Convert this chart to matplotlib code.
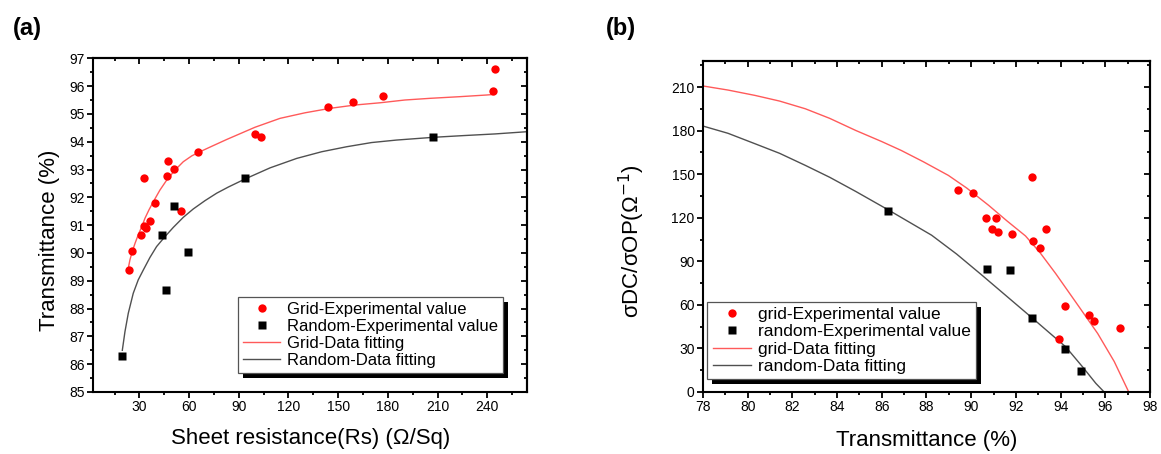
import matplotlib
matplotlib.use('Agg')
import matplotlib.pyplot as plt
from matplotlib.ticker import MultipleLocator
from matplotlib.patches import Rectangle
from matplotlib.lines import Line2D

plt.rcParams['font.family'] = ['Liberation Sans', 'DejaVu Sans']

# ---- panel (a): transmittance vs sheet resistance ----
grid_rs = [23.8, 25.7, 30.9, 32.8, 32.8, 34.1, 36.2, 39.4, 46.9, 47.1,
           51.2, 55.0, 65.5, 100.0, 103.6, 144.0, 159.2, 176.8, 243.5, 244.5]
grid_t = [89.40, 90.07, 90.63, 90.98, 92.70, 90.91, 91.16, 91.81, 92.75, 93.29,
          93.02, 91.51, 93.63, 94.27, 94.18, 95.24, 95.44, 95.66, 95.81, 96.63]

random_rs = [19.7, 43.9, 46.0, 50.8, 59.3, 94.0, 207.5]
random_t = [86.29, 90.64, 88.67, 91.70, 90.03, 92.69, 94.17]

# fitted curves
grid_fit_rs = [23.3, 24.3, 25.7, 27.4, 29.3, 31.4, 33.4, 35.8, 38.4, 42.4, 46.5,
               51.5, 56.5, 61.6, 66.6, 74.6, 82.7, 99.8, 114.9, 130.0, 145.1,
               160.2, 175.3, 190.3, 205.4, 223.5, 239.7, 244.0]
grid_fit_t = [89.45, 89.75, 90.05, 90.35, 90.65, 90.94, 91.25, 91.55, 91.84, 92.26, 92.62,
              92.98, 93.28, 93.49, 93.64, 93.86, 94.08, 94.52, 94.84, 95.04, 95.20,
              95.32, 95.40, 95.50, 95.56, 95.62, 95.68, 95.70]

random_fit_rs = [19.7, 21.3, 23.3, 26.3, 29.3, 32.4, 36.4, 40.4, 45.5, 50.5, 56.5,
                 62.5, 69.6, 76.7, 83.7, 93.8, 108.9, 125.0, 140.1, 155.2, 170.2,
                 185.3, 207.9, 225.6, 244.7, 264.0]
random_fit_t = [86.50, 87.17, 87.83, 88.55, 89.03, 89.39, 89.84, 90.23, 90.59, 90.92, 91.28,
                91.58, 91.88, 92.15, 92.37, 92.66, 93.06, 93.40, 93.64, 93.82, 93.97,
                94.06, 94.16, 94.22, 94.28, 94.36]

# ---- panel (b): figure of merit vs transmittance ----
grid_tb = [89.43, 90.10, 90.68, 91.09, 90.92, 91.21, 91.84, 92.71, 92.78, 93.08,
           93.33, 94.21, 93.91, 95.27, 95.48, 96.67]
grid_fom = [139.1, 136.8, 119.7, 119.7, 112.1, 110.1, 108.5, 148.3, 104.3, 99.0,
            112.6, 59.2, 36.2, 52.7, 49.0, 44.0]

random_tb = [86.28, 90.71, 91.75, 92.71, 94.21, 94.93]
random_fom = [124.6, 84.5, 84.0, 51.3, 29.5, 14.5]

grid_fit_tb = [78.0, 79.12, 80.33, 81.43, 82.58, 83.67, 84.83, 86.0, 86.87, 87.86,
               88.98, 89.8, 90.78, 91.59, 92.43, 93.08, 93.78, 94.83, 95.66, 96.4, 97.05]
grid_fit_fom = [210.8, 208.0, 204.3, 200.4, 195.1, 188.5, 180.2, 172.5, 166.4, 158.6,
                149.2, 140.5, 128.6, 118.0, 107.5, 96.0, 81.6, 58.6, 40.3, 21.0, 0.0]

random_fit_tb = [78.0, 79.12, 80.33, 81.43, 82.58, 83.67, 84.83, 86.33, 88.23, 89.35,
                 90.48, 92.73, 94.23, 95.0, 95.58, 95.95]
random_fit_fom = [183.2, 178.2, 171.0, 164.4, 156.1, 147.9, 138.2, 125.1, 108.0, 95.0,
                  80.5, 51.0, 31.1, 17.0, 5.9, 0.0]

RED = '#ff0000'
RED_LINE = '#ff5a5a'
GRAY_LINE = '#505050'


def style(ax, xmaj, xmin, ymaj, ymin):
    for sp in ax.spines.values():
        sp.set_linewidth(1.5)
    ax.xaxis.set_major_locator(MultipleLocator(xmaj))
    ax.xaxis.set_minor_locator(MultipleLocator(xmin))
    ax.yaxis.set_major_locator(MultipleLocator(ymaj))
    ax.yaxis.set_minor_locator(MultipleLocator(ymin))
    ax.tick_params(which='both', direction='out', width=1.3, labelsize=10,
                   pad=2)
    ax.tick_params(which='major', length=4)
    ax.tick_params(which='minor', length=2.5)
    top = ax.secondary_xaxis('top')
    top.xaxis.set_major_locator(MultipleLocator(xmaj))
    top.xaxis.set_minor_locator(MultipleLocator(xmin))
    right = ax.secondary_yaxis('right')
    right.yaxis.set_major_locator(MultipleLocator(ymaj))
    right.yaxis.set_minor_locator(MultipleLocator(ymin))
    for sec in (top, right):
        sec.tick_params(which='both', direction='in', width=1.3,
                        labeltop=False, labelright=False)
        sec.tick_params(which='major', length=4)
        sec.tick_params(which='minor', length=2.5)
        for sp in sec.spines.values():
            sp.set_linewidth(1.5)


def make_legend(ax, labels, anchor, fs):
    handles = [
        Line2D([], [], ls='none', marker='o', ms=6, color=RED, mec='none'),
        Line2D([], [], ls='none', marker='s', ms=5.3, color='black', mec='none'),
        Line2D([], [], color=RED_LINE, lw=1),
        Line2D([], [], color=GRAY_LINE, lw=1),
    ]
    leg = ax.legend(handles, labels, loc='lower left', bbox_to_anchor=anchor,
                    fontsize=fs, frameon=True, fancybox=False, borderpad=0.3,
                    labelspacing=0.12, handlelength=2.2, handletextpad=0.4,
                    borderaxespad=0, framealpha=1, facecolor='white')
    leg.get_frame().set_edgecolor('#555555')
    leg.get_frame().set_linewidth(0.9)
    return leg


fig = plt.figure(figsize=(11.61, 4.54), dpi=100)
ax1 = fig.add_axes([0.0801, 0.1366, 0.3738, 0.735])
ax2 = fig.add_axes([0.6055, 0.1366, 0.3850, 0.729])

# (a)
ax1.plot(grid_fit_rs, grid_fit_t, color=RED_LINE, lw=1, zorder=2)
ax1.plot(random_fit_rs, random_fit_t, color=GRAY_LINE, lw=1, zorder=2)
ax1.plot(grid_rs, grid_t, 'o', color=RED, ms=6, mec='none', zorder=3)
ax1.plot(random_rs, random_t, 's', color='black', ms=5.3, mec='none', zorder=3)
ax1.set_xlim(2, 264)
ax1.set_ylim(85, 97)
style(ax1, 30, 15, 1, 0.5)
ax1.set_xlabel('Sheet resistance(Rs) (\u03a9/Sq)', fontsize=16, va='center')
ax1.set_ylabel('Transmittance (%)', fontsize=16, va='center')
ax1.xaxis.set_label_coords(0.501, -0.138)
ax1.yaxis.set_label_coords(-0.0995, 0.455)
leg1 = make_legend(ax1, ['Grid-Experimental value', 'Random-Experimental value',
                         'Grid-Data fitting', 'Random-Data fitting'],
                   (0.335, 0.056), 12)

# (b)
ax2.plot(grid_fit_tb, grid_fit_fom, color=RED_LINE, lw=1, zorder=2)
ax2.plot(random_fit_tb, random_fit_fom, color=GRAY_LINE, lw=1, zorder=2)
ax2.plot(grid_tb, grid_fom, 'o', color=RED, ms=6, mec='none', zorder=3)
ax2.plot(random_tb, random_fom, 's', color='black', ms=5.3, mec='none', zorder=3)
ax2.set_xlim(78, 98)
ax2.set_ylim(0, 228)
style(ax2, 2, 1, 30, 15)
ax2.set_xlabel('Transmittance (%)', fontsize=16, va='center')
ax2.set_ylabel('\u03c3DC/\u03c3OP(\u03a9$^{-1}$)', fontsize=16, va='center')
ax2.xaxis.set_label_coords(0.501, -0.148)
ax2.yaxis.set_label_coords(-0.160, 0.456)
leg2 = make_legend(ax2, ['grid-Experimental value', 'random-Experimental value',
                         'grid-Data fitting', 'random-Data fitting'],
                   (0.010, 0.039), 12.5)

fig.text(0.024, 0.938, '(a)', fontsize=17, fontweight='bold', ha='center', va='center')
fig.text(0.535, 0.938, '(b)', fontsize=17, fontweight='bold', ha='center', va='center')

# black drop shadows behind the legends
fig.canvas.draw()
for ax, leg in ((ax1, leg1), (ax2, leg2)):
    bb = leg.get_window_extent()
    off = 5
    p0 = ax.transAxes.inverted().transform((bb.x0 + off, bb.y0 - off))
    p1 = ax.transAxes.inverted().transform((bb.x1 + off, bb.y1 - off))
    ax.add_patch(Rectangle(p0, p1[0] - p0[0], p1[1] - p0[1], transform=ax.transAxes,
                           facecolor='black', edgecolor='none', zorder=4.5,
                           clip_on=False))

fig.savefig('out.png', dpi=100)
